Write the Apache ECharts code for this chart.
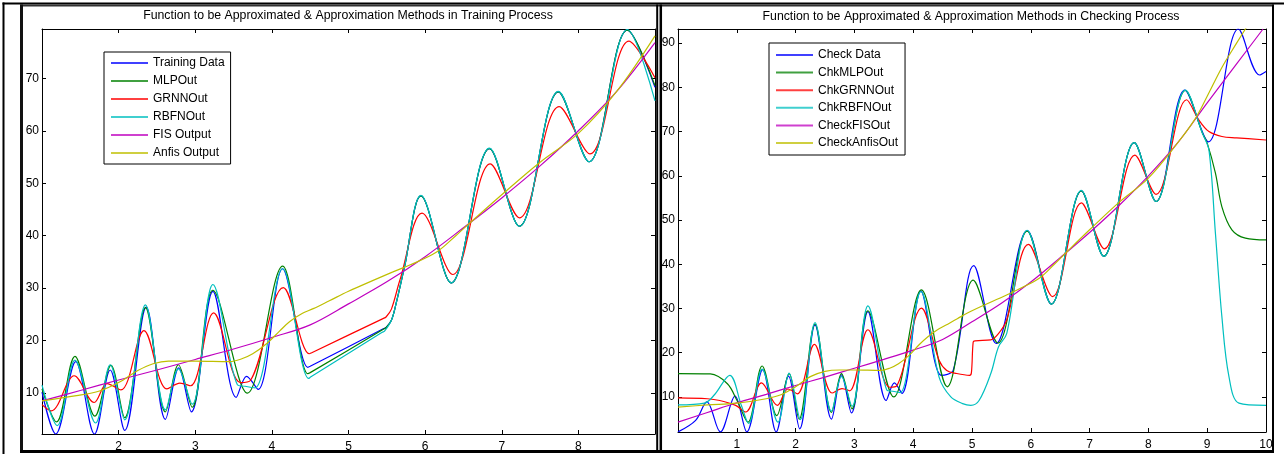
<!DOCTYPE html>
<html>
<head>
<meta charset="utf-8">
<script src="https://cdn.jsdelivr.net/npm/echarts@6/dist/echarts.min.js"></script>
<style>
html,body{margin:0;padding:0;background:#fff;}
#chart{width:1284px;height:454px;}
</style>
</head>
<body>
<div id="chart"></div>
<script>
// ---------------- text ----------------
const trainTitle = 'Function to be Approximated & Approximation Methods in Training Process';
const checkTitle = 'Function to be Approximated & Approximation Methods in Checking Process';
const trainNames = ['Training Data', 'MLPOut', 'GRNNOut', 'RBFNOut', 'FIS Output', 'Anfis Output'];
const checkNames = ['Check Data', 'ChkMLPOut', 'ChkGRNNOut', 'ChkRBFNOut', 'CheckFISOut', 'CheckAnfisOut'];

// ---------------- tick labels ----------------
const trainXLabels = [2, 3, 4, 5, 6, 7, 8];
const trainYLabels = [10, 20, 30, 40, 50, 60, 70];
const checkXLabels = [1, 2, 3, 4, 5, 6, 7, 8, 9, 10];
const checkYLabels = [10, 20, 30, 40, 50, 60, 70, 80, 90];
const trainXRange = [1, 9];
const trainYRange = [2.2, 79.4];
const checkXRange = [0, 10];
const checkYRange = [2.08, 93.2];

// ---------------- training panel data [x, y] ----------------
const trainingData = [[1.00,10.2],[1.18,2.2],[1.44,16.0],[1.685,2.2],[1.89,14.4],[2.08,2.9],[2.36,26.4],[2.61,5.0],[2.785,14.8],[2.95,6.4],[3.23,29.4],[3.535,9.2],[3.67,13.2],[3.82,10.7],[4.14,33.7],[4.47,14.9],[4.50,15.1],[5.46,22.3],[5.49,22.5],[5.56,23.9],[5.62,27.0],[5.73,34.0],[5.945,47.6],[6.34,31.0],[6.84,56.6],[7.23,41.8],[7.74,67.4],[8.14,54.1],[8.64,79.2],[9.00,68.3]];
const mlpOut = [[1.00,10.8],[1.19,4.5],[1.43,17.0],[1.69,5.6],[1.90,15.3],[2.08,5.3],[2.35,26.3],[2.61,6.4],[2.78,15.4],[2.96,7.3],[3.23,29.6],[3.68,10.0],[4.14,34.2],[4.47,13.7],[4.50,13.9],[5.46,22.2],[5.49,22.5],[5.56,23.9],[5.62,27.0],[5.73,34.0],[5.945,47.6],[6.34,31.0],[6.84,56.6],[7.23,41.8],[7.74,67.4],[8.14,54.1],[8.64,79.2],[9.00,68.6]];
const grnnOut = [[1.00,7.8],[1.12,6.6],[1.42,13.3],[1.68,8.2],[1.85,11.8],[2.03,10.6],[2.33,21.9],[2.63,10.8],[2.80,11.9],[2.94,11.4],[3.24,25.3],[3.59,12.0],[3.72,12.4],[4.15,30.1],[4.49,17.5],[4.52,17.7],[5.45,24.2],[5.49,24.5],[5.56,26.0],[5.67,31.5],[5.96,44.3],[6.36,32.6],[6.85,53.7],[7.23,43.4],[7.75,64.6],[8.15,55.6],[8.66,77.1],[9.00,70.1]];
const rbfnOut = [[1.00,11.5],[1.20,3.8],[1.43,16.3],[1.70,4.3],[1.89,15.4],[2.08,4.9],[2.35,26.8],[2.61,6.8],[2.78,14.6],[2.96,7.9],[3.23,30.7],[3.55,11.6],[3.65,11.3],[3.78,11.0],[4.14,33.7],[4.48,12.8],[4.51,13.1],[5.44,21.6],[5.47,21.8],[5.56,23.9],[5.62,27.0],[5.73,34.0],[5.945,47.7],[6.34,31.0],[6.84,56.7],[7.23,41.8],[7.74,67.5],[8.14,54.1],[8.64,79.3],[9.00,65.7]];
const fisOutput = [[1.0,8.5],[1.5,10.5],[2.0,12.5],[2.5,14.4],[3.0,16.4],[3.5,18.4],[4.0,20.6],[4.5,23.0],[5.0,27.0],[5.5,31.2],[6.0,36.0],[6.5,41.5],[7.0,47.2],[7.5,53.3],[8.0,60.0],[8.5,67.5],[9.0,76.8]];
const anfisOutput = [[1.0,8.5],[1.45,9.5],[1.75,10.4],[2.0,12.0],[2.25,14.3],[2.45,15.6],[2.65,16.1],[3.0,16.1],[3.45,16.0],[3.6,16.5],[3.75,17.5],[3.93,19.4],[4.1,21.8],[4.23,23.6],[4.4,25.2],[4.54,26.1],[4.75,27.6],[5.0,29.4],[5.58,33.1],[5.8,34.4],[6.15,36.9],[6.4,40.0],[6.62,42.9],[7.0,47.8],[7.5,54.0],[8.0,59.5],[8.5,67.5],[9.0,78.1]];

// ---------------- checking panel data [x, y] ----------------
const checkData = [[0.00,2.1],[0.30,4.7],[0.49,8.9],[0.72,2.1],[0.97,10.2],[1.17,2.1],[1.44,16.2],[1.67,2.1],[1.88,14.7],[2.07,2.8],[2.33,26.3],[2.61,5.0],[2.78,15.0],[2.95,6.4],[3.23,29.3],[3.54,9.2],[3.68,13.2],[3.81,10.8],[4.13,34.0],[4.48,14.9],[4.68,16.0],[5.03,39.7],[5.41,22.1],[5.94,47.6],[6.35,31.0],[6.86,56.6],[7.24,41.8],[7.76,67.5],[8.13,54.2],[8.62,79.4],[9.02,67.7],[9.53,93.2],[9.89,82.8],[10.0,83.6]];
const chkMLPOut = [[0.00,15.3],[0.55,15.2],[0.84,13.0],[1.00,9.3],[1.19,4.3],[1.43,17.0],[1.68,5.8],[1.89,15.3],[2.06,5.0],[2.33,26.5],[2.61,6.5],[2.78,15.3],[2.96,7.3],[3.23,29.5],[3.67,10.0],[4.14,34.2],[4.58,12.3],[5.02,36.4],[5.44,22.2],[5.94,47.5],[6.35,31.0],[6.86,56.6],[7.24,41.8],[7.76,67.5],[8.13,54.2],[8.63,79.3],[8.92,69.6],[9.00,67.4],[9.14,60.6],[9.25,53.0],[9.42,47.8],[9.65,45.9],[10.0,45.5]];
const chkGRNNOut = [[0.00,9.8],[0.50,9.6],[0.71,9.2],[0.98,8.1],[1.15,6.6],[1.42,13.2],[1.69,8.1],[1.87,11.8],[2.03,10.7],[2.32,21.9],[2.62,10.9],[2.79,11.9],[2.92,11.4],[3.23,25.2],[3.60,12.2],[3.72,12.5],[4.14,30.1],[4.44,18.3],[4.57,16.0],[4.74,15.3],[4.96,14.9],[4.99,15.5],[5.02,22.4],[5.05,22.7],[5.32,22.9],[5.45,24.3],[5.59,27.4],[5.96,44.5],[6.37,32.7],[6.86,53.9],[7.25,43.5],[7.77,64.7],[8.13,55.8],[8.65,77.2],[8.86,72.6],[9.03,70.0],[9.25,68.9],[9.50,68.6],[10.0,68.1]];
const chkRBFNOut = [[0.00,8.2],[0.45,8.6],[0.62,10.5],[0.88,14.9],[1.08,8.0],[1.20,4.0],[1.43,16.3],[1.70,4.3],[1.89,15.4],[2.08,4.9],[2.33,26.8],[2.61,6.8],[2.78,14.6],[2.96,7.9],[3.23,30.6],[3.55,11.6],[3.65,11.3],[3.78,11.0],[4.13,33.8],[4.44,14.5],[4.64,10.0],[4.84,8.5],[4.98,8.1],[5.12,9.2],[5.32,15.3],[5.45,21.3],[5.59,24.3],[5.94,47.7],[6.35,31.0],[6.86,56.7],[7.24,41.8],[7.76,67.5],[8.13,54.2],[8.63,79.4],[8.92,69.6],[9.03,65.8],[9.14,47.0],[9.25,28.1],[9.37,14.6],[9.54,8.6],[10.0,8.1]];
const checkFISOut = [[0.0,4.3],[0.5,6.5],[1.0,8.7],[1.5,10.6],[2.0,12.6],[2.5,14.5],[3.0,16.5],[3.5,18.5],[4.0,20.6],[4.5,23.0],[5.0,27.0],[5.5,31.2],[6.0,36.0],[6.5,41.5],[7.0,47.2],[7.5,53.3],[8.0,60.0],[8.5,67.5],[9.0,76.5],[9.5,85.3],[9.95,93.2]];
const checkAnfisOut = [[0.0,7.7],[0.5,8.2],[1.0,8.6],[1.5,9.6],[1.75,10.5],[2.0,12.3],[2.25,14.6],[2.5,15.8],[2.75,16.1],[3.0,16.1],[3.45,16.0],[3.6,16.5],[3.75,17.5],[3.93,19.4],[4.1,21.8],[4.25,23.6],[4.4,25.1],[4.55,26.2],[4.75,27.7],[5.0,29.5],[5.58,33.0],[5.8,34.4],[6.15,36.9],[6.4,40.0],[6.62,42.9],[7.0,47.8],[7.5,54.0],[8.0,59.5],[8.5,67.5],[8.8,73.0],[9.0,78.0],[9.25,84.5],[9.5,90.0],[9.65,93.2],[9.7,94.2]];

// ---------------- styles ----------------
const FONT = '"Liberation Sans", Arial, sans-serif';
const colors = ['#0000ff', '#008000', '#ff0000', '#00bfbf', '#bf00bf', '#bfbf00'];

function xAxes(gridIndex, range, labels) {
  const base = {
    type: 'value', gridIndex, min: range[0], max: range[1], interval: 1,
    axisLine: { show: true, onZero: false, lineStyle: { color: '#000', width: 1 } },
    axisTick: { show: true, inside: true, length: 4, lineStyle: { color: '#000', width: 1 } },
    splitLine: { show: false }
  };
  return [
    Object.assign({}, base, { position: 'bottom',
      axisLabel: { show: true, color: '#000', fontSize: 12, fontFamily: FONT, margin: 7,
        formatter: v => labels.includes(Math.round(v * 1000) / 1000) ? String(v) : '' } }),
    Object.assign({}, base, { position: 'top', axisLabel: { show: false } })
  ];
}
function yAxes(gridIndex, range, labels, split) {
  const base = {
    type: 'value', gridIndex, min: range[0], max: range[1], splitNumber: split,
    axisLine: { show: true, onZero: false, lineStyle: { color: '#000', width: 1 } },
    axisTick: { show: true, inside: true, length: 4, lineStyle: { color: '#000', width: 1 } },
    splitLine: { show: false }
  };
  return [
    Object.assign({}, base, { position: 'left',
      axisLabel: { show: true, color: '#000', fontSize: 12, fontFamily: FONT, margin: 3,
        showMinLabel: false, showMaxLabel: false,
        formatter: v => labels.includes(Math.round(v * 1000) / 1000) ? String(v) : '' } }),
    Object.assign({}, base, { position: 'right', axisLabel: { show: false } })
  ];
}
function mk(name, data, color, axisIndex) {
  return {
    name, type: 'line', data, xAxisIndex: axisIndex, yAxisIndex: axisIndex,
    smooth: 0.35, showSymbol: false, symbol: 'none', clip: true,
    lineStyle: { color, width: 1.2 }, itemStyle: { color }, emphasis: { disabled: true }
  };
}
function legend(names, left, top, padding, gap) {
  return {
    data: names, orient: 'vertical', left, top, padding, itemGap: gap,
    itemWidth: 37, itemHeight: 2, icon: 'rect', selectedMode: false,
    borderColor: '#000', borderWidth: 1, backgroundColor: '#fff',
    itemStyle: { opacity: 0.75 },
    textStyle: { fontSize: 12, color: '#000', fontFamily: FONT, lineHeight: 14 }
  };
}

const trainSeries = [trainingData, mlpOut, grnnOut, rbfnOut, fisOutput, anfisOutput];
const checkSeries = [checkData, chkMLPOut, chkGRNNOut, chkRBFNOut, checkFISOut, checkAnfisOut];

const chart = echarts.init(document.getElementById('chart'), null, { renderer: 'canvas' });
const tx = xAxes(0, trainXRange, trainXLabels), ty = yAxes(0, trainYRange, trainYLabels, 8);
const cx = xAxes(1, checkXRange, checkXLabels), cy = yAxes(1, checkYRange, checkYLabels, 9);

chart.setOption({
  animation: false,
  backgroundColor: '#fff',
  textStyle: { fontFamily: FONT },
  title: [
    { text: trainTitle, left: 348, top: 10, textAlign: 'center', padding: 0,
      textStyle: { fontSize: 12.3, fontWeight: 'normal', color: '#000', fontFamily: FONT } },
    { text: checkTitle, left: 971, top: 11, textAlign: 'center', padding: 0,
      textStyle: { fontSize: 12.3, fontWeight: 'normal', color: '#000', fontFamily: FONT } }
  ],
  grid: [
    { left: 42, top: 29, width: 613, height: 405, containLabel: false },
    { left: 678, top: 29, width: 588, height: 403, containLabel: false }
  ],
  xAxis: [tx[0], tx[1], cx[0], cx[1]],
  yAxis: [ty[0], ty[1], cy[0], cy[1]],
  legend: [
    legend(trainNames, 104, 52, [4, 6, 4, 7], 4),
    legend(checkNames, 769, 43, [5, 7, 5, 7], 3.6)
  ],
  series: [
    ...trainSeries.map((d, i) => mk(trainNames[i], d, colors[i], 0)),
    ...checkSeries.map((d, i) => mk(checkNames[i], d, colors[i], 2))
  ],
  graphic: [
    { type: 'line', z: 100, shape: { x1: 3.5, y1: 2.5, x2: 3.5, y2: 454 }, style: { stroke: '#000', lineWidth: 2 } },
    { type: 'line', z: 100, shape: { x1: 2.5, y1: 3.6, x2: 1284, y2: 3.6 }, style: { stroke: '#000', lineWidth: 2 } },
    { type: 'line', z: 100, shape: { x1: 20, y1: 5.6, x2: 1274, y2: 5.6 }, style: { stroke: '#333', lineWidth: 2 } },
    { type: 'line', z: 100, shape: { x1: 21.5, y1: 4.6, x2: 21.5, y2: 453 }, style: { stroke: '#111', lineWidth: 3 } },
    { type: 'line', z: 100, shape: { x1: 657.2, y1: 4.6, x2: 657.2, y2: 453 }, style: { stroke: '#000', lineWidth: 2 } },
    { type: 'line', z: 100, shape: { x1: 660.8, y1: 4.6, x2: 660.8, y2: 453 }, style: { stroke: '#000', lineWidth: 2.5 } },
    { type: 'line', z: 100, shape: { x1: 1273, y1: 4.6, x2: 1273, y2: 453 }, style: { stroke: '#000', lineWidth: 2 } },
    { type: 'line', z: 100, shape: { x1: 20, y1: 451.6, x2: 1274, y2: 451.6 }, style: { stroke: '#000', lineWidth: 3 } }
  ]
});
</script>
</body>
</html>
